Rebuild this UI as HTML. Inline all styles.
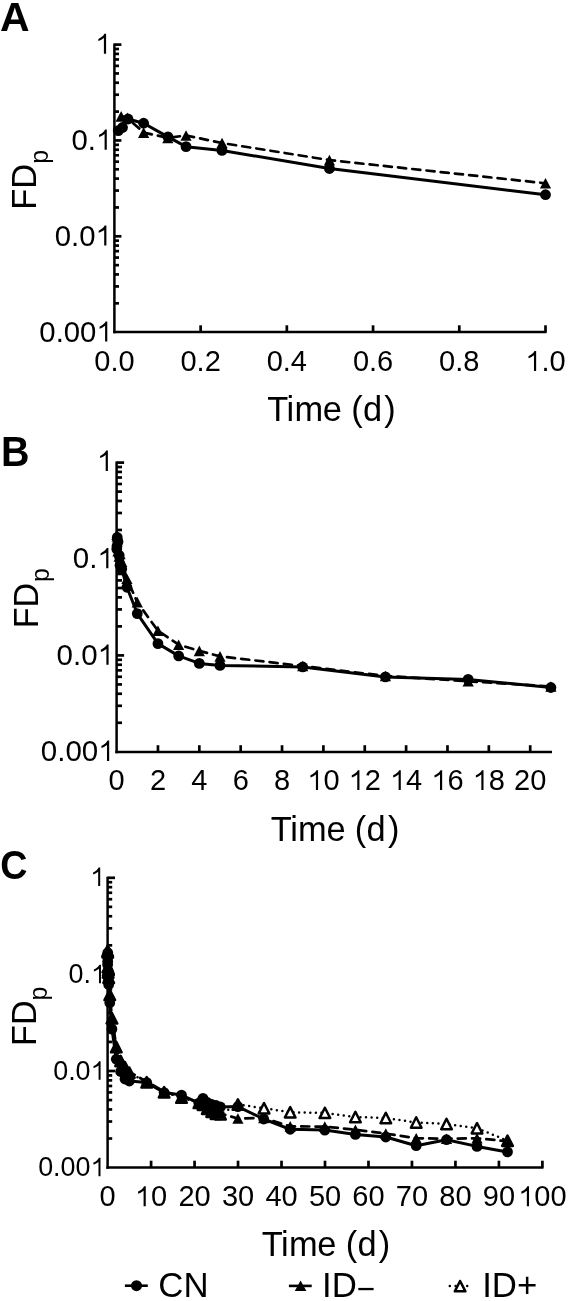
<!DOCTYPE html>
<html><head><meta charset="utf-8"><style>
html,body{margin:0;padding:0;background:#fff;width:568px;height:1301px;overflow:hidden}
svg{display:block;will-change:transform}
text{font-family:"Liberation Sans",sans-serif;fill:#000}
</style></head><body>
<svg width="568" height="1301" viewBox="0 0 568 1301">
<rect width="568" height="1301" fill="#fff"/>
<line x1="114.4" y1="43.5" x2="114.4" y2="333.35" stroke="#000" stroke-width="2.5"/>
<line x1="113.15" y1="332.1" x2="546.6" y2="332.1" stroke="#000" stroke-width="2.5"/>
<line x1="114.4" y1="44.60" x2="121.4" y2="44.60" stroke="#000" stroke-width="2.7"/>
<line x1="114.4" y1="111.60" x2="119.0" y2="111.60" stroke="#000" stroke-width="2.7"/>
<line x1="114.4" y1="94.72" x2="119.0" y2="94.72" stroke="#000" stroke-width="2.7"/>
<line x1="114.4" y1="82.74" x2="119.0" y2="82.74" stroke="#000" stroke-width="2.7"/>
<line x1="114.4" y1="73.45" x2="119.0" y2="73.45" stroke="#000" stroke-width="2.7"/>
<line x1="114.4" y1="65.86" x2="119.0" y2="65.86" stroke="#000" stroke-width="2.7"/>
<line x1="114.4" y1="59.45" x2="119.0" y2="59.45" stroke="#000" stroke-width="2.7"/>
<line x1="114.4" y1="53.89" x2="119.0" y2="53.89" stroke="#000" stroke-width="2.7"/>
<line x1="114.4" y1="48.99" x2="119.0" y2="48.99" stroke="#000" stroke-width="2.7"/>
<line x1="114.4" y1="140.45" x2="121.4" y2="140.45" stroke="#000" stroke-width="2.7"/>
<line x1="114.4" y1="207.45" x2="119.0" y2="207.45" stroke="#000" stroke-width="2.7"/>
<line x1="114.4" y1="190.57" x2="119.0" y2="190.57" stroke="#000" stroke-width="2.7"/>
<line x1="114.4" y1="178.59" x2="119.0" y2="178.59" stroke="#000" stroke-width="2.7"/>
<line x1="114.4" y1="169.30" x2="119.0" y2="169.30" stroke="#000" stroke-width="2.7"/>
<line x1="114.4" y1="161.71" x2="119.0" y2="161.71" stroke="#000" stroke-width="2.7"/>
<line x1="114.4" y1="155.30" x2="119.0" y2="155.30" stroke="#000" stroke-width="2.7"/>
<line x1="114.4" y1="149.74" x2="119.0" y2="149.74" stroke="#000" stroke-width="2.7"/>
<line x1="114.4" y1="144.84" x2="119.0" y2="144.84" stroke="#000" stroke-width="2.7"/>
<line x1="114.4" y1="236.30" x2="121.4" y2="236.30" stroke="#000" stroke-width="2.7"/>
<line x1="114.4" y1="303.30" x2="119.0" y2="303.30" stroke="#000" stroke-width="2.7"/>
<line x1="114.4" y1="286.42" x2="119.0" y2="286.42" stroke="#000" stroke-width="2.7"/>
<line x1="114.4" y1="274.44" x2="119.0" y2="274.44" stroke="#000" stroke-width="2.7"/>
<line x1="114.4" y1="265.15" x2="119.0" y2="265.15" stroke="#000" stroke-width="2.7"/>
<line x1="114.4" y1="257.56" x2="119.0" y2="257.56" stroke="#000" stroke-width="2.7"/>
<line x1="114.4" y1="251.15" x2="119.0" y2="251.15" stroke="#000" stroke-width="2.7"/>
<line x1="114.4" y1="245.59" x2="119.0" y2="245.59" stroke="#000" stroke-width="2.7"/>
<line x1="114.4" y1="240.69" x2="119.0" y2="240.69" stroke="#000" stroke-width="2.7"/>
<line x1="200.62" y1="332.1" x2="200.62" y2="325.3" stroke="#000" stroke-width="2.7"/>
<line x1="286.84" y1="332.1" x2="286.84" y2="325.3" stroke="#000" stroke-width="2.7"/>
<line x1="373.06" y1="332.1" x2="373.06" y2="325.3" stroke="#000" stroke-width="2.7"/>
<line x1="459.28" y1="332.1" x2="459.28" y2="325.3" stroke="#000" stroke-width="2.7"/>
<line x1="545.50" y1="332.1" x2="545.50" y2="325.3" stroke="#000" stroke-width="2.7"/>
<g transform="translate(106.10,53.80) scale(1.0,1.0)"><path transform="translate(-10.93,0) scale(0.01431,-0.01369)" d="M 763 0 L 610 0 L 610 1147 Q 540 1085 430 1023 Q 320 961 223 930 L 223 1090 Q 374 1165 487 1266 Q 600 1367 647 1472 L 763 1472 Z"/></g>
<g transform="translate(106.80,149.75) scale(1.0,1.0)"><text x="-35.36 -19.07" y="0" font-size="29.3">0.</text><path transform="translate(-10.93,0) scale(0.01431,-0.01369)" d="M 763 0 L 610 0 L 610 1147 Q 540 1085 430 1023 Q 320 961 223 930 L 223 1090 Q 374 1165 487 1266 Q 600 1367 647 1472 L 763 1472 Z"/></g>
<g transform="translate(106.40,245.60) scale(1.0,1.0)"><text x="-51.66 -35.36 -27.22" y="0" font-size="29.3">0.0</text><path transform="translate(-10.93,0) scale(0.01431,-0.01369)" d="M 763 0 L 610 0 L 610 1147 Q 540 1085 430 1023 Q 320 961 223 930 L 223 1090 Q 374 1165 487 1266 Q 600 1367 647 1472 L 763 1472 Z"/></g>
<g transform="translate(107.30,341.55) scale(1.0,1.0)"><text x="-67.96 -51.66 -43.52 -27.22" y="0" font-size="29.3">0.00</text><path transform="translate(-10.93,0) scale(0.01431,-0.01369)" d="M 763 0 L 610 0 L 610 1147 Q 540 1085 430 1023 Q 320 961 223 930 L 223 1090 Q 374 1165 487 1266 Q 600 1367 647 1472 L 763 1472 Z"/></g>
<g transform="translate(114.40,370.90) scale(1.0,1.0)"><text x="-20.16 -4.03 4.03" y="0" font-size="29">0.0</text></g>
<g transform="translate(200.62,370.90) scale(1.0,1.0)"><text x="-20.16 -4.03 4.03" y="0" font-size="29">0.2</text></g>
<g transform="translate(286.84,370.90) scale(1.0,1.0)"><text x="-20.16 -4.03 4.03" y="0" font-size="29">0.4</text></g>
<g transform="translate(373.06,370.90) scale(1.0,1.0)"><text x="-20.16 -4.03 4.03" y="0" font-size="29">0.6</text></g>
<g transform="translate(459.28,370.90) scale(1.0,1.0)"><text x="-20.16 -4.03 4.03" y="0" font-size="29">0.8</text></g>
<g transform="translate(545.50,370.90) scale(1.0,1.0)"><text x="-4.03 4.03" y="0" font-size="29">.0</text><path transform="translate(-20.16,0) scale(0.01416,-0.01355)" d="M 763 0 L 610 0 L 610 1147 Q 540 1085 430 1023 Q 320 961 223 930 L 223 1090 Q 374 1165 487 1266 Q 600 1367 647 1472 L 763 1472 Z"/></g>
<polyline points="121.13,116.39 127.33,117.83 143.63,132.59 167.86,137.86 186.05,135.47 222.05,143.04 329.43,160.10 545.50,183.29" fill="none" stroke="#000" stroke-width="2.7" stroke-dasharray="8.1,6.2" stroke-linecap="round" stroke-linejoin="round"/>
<polyline points="118.28,130.58 122.50,127.51 128.02,118.98 143.63,123.20 167.94,136.90 186.05,146.68 221.96,150.42 329.43,168.53 545.50,194.70" fill="none" stroke="#000" stroke-width="3.0" stroke-linejoin="round"/>
<polygon points="121.13,111.09 115.53,121.69 126.73,121.69" fill="#000"/>
<polygon points="127.33,112.53 121.73,123.13 132.93,123.13" fill="#000"/>
<polygon points="143.63,127.29 138.03,137.89 149.23,137.89" fill="#000"/>
<polygon points="167.86,132.56 162.26,143.16 173.46,143.16" fill="#000"/>
<polygon points="186.05,130.17 180.45,140.77 191.65,140.77" fill="#000"/>
<polygon points="222.05,137.74 216.45,148.34 227.65,148.34" fill="#000"/>
<polygon points="329.43,154.80 323.83,165.40 335.03,165.40" fill="#000"/>
<polygon points="545.50,177.99 539.90,188.59 551.10,188.59" fill="#000"/>
<circle cx="118.28" cy="130.58" r="5.4" fill="#000"/>
<circle cx="122.50" cy="127.51" r="5.4" fill="#000"/>
<circle cx="128.02" cy="118.98" r="5.4" fill="#000"/>
<circle cx="143.63" cy="123.20" r="5.4" fill="#000"/>
<circle cx="167.94" cy="136.90" r="5.4" fill="#000"/>
<circle cx="186.05" cy="146.68" r="5.4" fill="#000"/>
<circle cx="221.96" cy="150.42" r="5.4" fill="#000"/>
<circle cx="329.43" cy="168.53" r="5.4" fill="#000"/>
<circle cx="545.50" cy="194.70" r="5.4" fill="#000"/>
<line x1="116.6" y1="461.5" x2="116.6" y2="753.25" stroke="#000" stroke-width="2.5"/>
<line x1="115.35" y1="752.0" x2="551.98" y2="752.0" stroke="#000" stroke-width="2.5"/>
<line x1="116.6" y1="462.60" x2="124.1" y2="462.60" stroke="#000" stroke-width="2.7"/>
<line x1="116.6" y1="529.98" x2="122.0" y2="529.98" stroke="#000" stroke-width="2.7"/>
<line x1="116.6" y1="513.01" x2="122.0" y2="513.01" stroke="#000" stroke-width="2.7"/>
<line x1="116.6" y1="500.96" x2="122.0" y2="500.96" stroke="#000" stroke-width="2.7"/>
<line x1="116.6" y1="491.62" x2="122.0" y2="491.62" stroke="#000" stroke-width="2.7"/>
<line x1="116.6" y1="483.99" x2="122.0" y2="483.99" stroke="#000" stroke-width="2.7"/>
<line x1="116.6" y1="477.53" x2="122.0" y2="477.53" stroke="#000" stroke-width="2.7"/>
<line x1="116.6" y1="471.94" x2="122.0" y2="471.94" stroke="#000" stroke-width="2.7"/>
<line x1="116.6" y1="467.01" x2="122.0" y2="467.01" stroke="#000" stroke-width="2.7"/>
<line x1="116.6" y1="559.00" x2="124.1" y2="559.00" stroke="#000" stroke-width="2.7"/>
<line x1="116.6" y1="626.38" x2="122.0" y2="626.38" stroke="#000" stroke-width="2.7"/>
<line x1="116.6" y1="609.41" x2="122.0" y2="609.41" stroke="#000" stroke-width="2.7"/>
<line x1="116.6" y1="597.36" x2="122.0" y2="597.36" stroke="#000" stroke-width="2.7"/>
<line x1="116.6" y1="588.02" x2="122.0" y2="588.02" stroke="#000" stroke-width="2.7"/>
<line x1="116.6" y1="580.39" x2="122.0" y2="580.39" stroke="#000" stroke-width="2.7"/>
<line x1="116.6" y1="573.93" x2="122.0" y2="573.93" stroke="#000" stroke-width="2.7"/>
<line x1="116.6" y1="568.34" x2="122.0" y2="568.34" stroke="#000" stroke-width="2.7"/>
<line x1="116.6" y1="563.41" x2="122.0" y2="563.41" stroke="#000" stroke-width="2.7"/>
<line x1="116.6" y1="655.40" x2="124.1" y2="655.40" stroke="#000" stroke-width="2.7"/>
<line x1="116.6" y1="722.78" x2="122.0" y2="722.78" stroke="#000" stroke-width="2.7"/>
<line x1="116.6" y1="705.81" x2="122.0" y2="705.81" stroke="#000" stroke-width="2.7"/>
<line x1="116.6" y1="693.76" x2="122.0" y2="693.76" stroke="#000" stroke-width="2.7"/>
<line x1="116.6" y1="684.42" x2="122.0" y2="684.42" stroke="#000" stroke-width="2.7"/>
<line x1="116.6" y1="676.79" x2="122.0" y2="676.79" stroke="#000" stroke-width="2.7"/>
<line x1="116.6" y1="670.33" x2="122.0" y2="670.33" stroke="#000" stroke-width="2.7"/>
<line x1="116.6" y1="664.74" x2="122.0" y2="664.74" stroke="#000" stroke-width="2.7"/>
<line x1="116.6" y1="659.81" x2="122.0" y2="659.81" stroke="#000" stroke-width="2.7"/>
<line x1="157.96" y1="752.0" x2="157.96" y2="745.2" stroke="#000" stroke-width="2.7"/>
<line x1="199.32" y1="752.0" x2="199.32" y2="745.2" stroke="#000" stroke-width="2.7"/>
<line x1="240.68" y1="752.0" x2="240.68" y2="745.2" stroke="#000" stroke-width="2.7"/>
<line x1="282.04" y1="752.0" x2="282.04" y2="745.2" stroke="#000" stroke-width="2.7"/>
<line x1="323.40" y1="752.0" x2="323.40" y2="745.2" stroke="#000" stroke-width="2.7"/>
<line x1="364.76" y1="752.0" x2="364.76" y2="745.2" stroke="#000" stroke-width="2.7"/>
<line x1="406.12" y1="752.0" x2="406.12" y2="745.2" stroke="#000" stroke-width="2.7"/>
<line x1="447.48" y1="752.0" x2="447.48" y2="745.2" stroke="#000" stroke-width="2.7"/>
<line x1="488.84" y1="752.0" x2="488.84" y2="745.2" stroke="#000" stroke-width="2.7"/>
<line x1="530.20" y1="752.0" x2="530.20" y2="745.2" stroke="#000" stroke-width="2.7"/>
<g transform="translate(107.90,470.90) scale(1.0,1.0)"><path transform="translate(-11.00,0) scale(0.01440,-0.01378)" d="M 763 0 L 610 0 L 610 1147 Q 540 1085 430 1023 Q 320 961 223 930 L 223 1090 Q 374 1165 487 1266 Q 600 1367 647 1472 L 763 1472 Z"/></g>
<g transform="translate(108.40,568.20) scale(1.0,1.0)"><text x="-35.61 -19.20" y="0" font-size="29.5">0.</text><path transform="translate(-11.00,0) scale(0.01440,-0.01378)" d="M 763 0 L 610 0 L 610 1147 Q 540 1085 430 1023 Q 320 961 223 930 L 223 1090 Q 374 1165 487 1266 Q 600 1367 647 1472 L 763 1472 Z"/></g>
<g transform="translate(108.60,664.80) scale(1.0,1.0)"><text x="-52.01 -35.61 -27.41" y="0" font-size="29.5">0.0</text><path transform="translate(-11.00,0) scale(0.01440,-0.01378)" d="M 763 0 L 610 0 L 610 1147 Q 540 1085 430 1023 Q 320 961 223 930 L 223 1090 Q 374 1165 487 1266 Q 600 1367 647 1472 L 763 1472 Z"/></g>
<g transform="translate(109.20,760.90) scale(1.0,1.0)"><text x="-68.42 -52.01 -43.82 -27.41" y="0" font-size="29.5">0.00</text><path transform="translate(-11.00,0) scale(0.01440,-0.01378)" d="M 763 0 L 610 0 L 610 1147 Q 540 1085 430 1023 Q 320 961 223 930 L 223 1090 Q 374 1165 487 1266 Q 600 1367 647 1472 L 763 1472 Z"/></g>
<g transform="translate(116.60,790.10) scale(1.0,1.0)"><text x="-8.06" y="0" font-size="29">0</text></g>
<g transform="translate(157.96,790.10) scale(1.0,1.0)"><text x="-8.06" y="0" font-size="29">2</text></g>
<g transform="translate(199.32,790.10) scale(1.0,1.0)"><text x="-8.06" y="0" font-size="29">4</text></g>
<g transform="translate(240.68,790.10) scale(1.0,1.0)"><text x="-8.06" y="0" font-size="29">6</text></g>
<g transform="translate(282.04,790.10) scale(1.0,1.0)"><text x="-8.06" y="0" font-size="29">8</text></g>
<g transform="translate(323.40,790.10) scale(1.0,1.0)"><text x="0.00" y="0" font-size="29">0</text><path transform="translate(-16.13,0) scale(0.01416,-0.01355)" d="M 763 0 L 610 0 L 610 1147 Q 540 1085 430 1023 Q 320 961 223 930 L 223 1090 Q 374 1165 487 1266 Q 600 1367 647 1472 L 763 1472 Z"/></g>
<g transform="translate(364.76,790.10) scale(1.0,1.0)"><text x="0.00" y="0" font-size="29">2</text><path transform="translate(-16.13,0) scale(0.01416,-0.01355)" d="M 763 0 L 610 0 L 610 1147 Q 540 1085 430 1023 Q 320 961 223 930 L 223 1090 Q 374 1165 487 1266 Q 600 1367 647 1472 L 763 1472 Z"/></g>
<g transform="translate(406.12,790.10) scale(1.0,1.0)"><text x="0.00" y="0" font-size="29">4</text><path transform="translate(-16.13,0) scale(0.01416,-0.01355)" d="M 763 0 L 610 0 L 610 1147 Q 540 1085 430 1023 Q 320 961 223 930 L 223 1090 Q 374 1165 487 1266 Q 600 1367 647 1472 L 763 1472 Z"/></g>
<g transform="translate(447.48,790.10) scale(1.0,1.0)"><text x="0.00" y="0" font-size="29">6</text><path transform="translate(-16.13,0) scale(0.01416,-0.01355)" d="M 763 0 L 610 0 L 610 1147 Q 540 1085 430 1023 Q 320 961 223 930 L 223 1090 Q 374 1165 487 1266 Q 600 1367 647 1472 L 763 1472 Z"/></g>
<g transform="translate(488.84,790.10) scale(1.0,1.0)"><text x="0.00" y="0" font-size="29">8</text><path transform="translate(-16.13,0) scale(0.01416,-0.01355)" d="M 763 0 L 610 0 L 610 1147 Q 540 1085 430 1023 Q 320 961 223 930 L 223 1090 Q 374 1165 487 1266 Q 600 1367 647 1472 L 763 1472 Z"/></g>
<g transform="translate(530.20,790.10) scale(1.0,1.0)"><text x="-16.13 0.00" y="0" font-size="29">20</text></g>
<polyline points="116.92,534.80 117.22,536.25 118.00,551.10 119.16,556.40 120.04,553.99 121.76,561.60 126.92,578.76 137.28,602.09 157.96,630.82 178.64,644.70 199.32,650.87 220.00,656.36 302.72,666.00 385.44,675.93 468.16,681.24 550.88,686.54" fill="none" stroke="#000" stroke-width="2.7" stroke-dasharray="8.1,6.2" stroke-linecap="round" stroke-linejoin="round"/>
<polyline points="116.79,549.07 116.99,545.99 117.25,537.41 118.00,541.65 119.17,555.43 120.04,565.27 121.76,569.03 126.92,587.25 137.28,613.56 157.96,643.64 178.64,655.88 199.32,663.40 220.00,665.43 302.72,666.97 385.44,676.90 468.16,679.40 550.88,687.50" fill="none" stroke="#000" stroke-width="3.0" stroke-linejoin="round"/>
<polygon points="116.92,529.50 111.32,540.10 122.52,540.10" fill="#000"/>
<polygon points="117.22,530.95 111.62,541.55 122.82,541.55" fill="#000"/>
<polygon points="118.00,545.80 112.40,556.40 123.60,556.40" fill="#000"/>
<polygon points="119.16,551.10 113.56,561.70 124.76,561.70" fill="#000"/>
<polygon points="120.04,548.69 114.44,559.29 125.64,559.29" fill="#000"/>
<polygon points="121.76,556.30 116.16,566.90 127.36,566.90" fill="#000"/>
<polygon points="126.92,573.46 121.32,584.06 132.52,584.06" fill="#000"/>
<polygon points="137.28,596.79 131.68,607.39 142.88,607.39" fill="#000"/>
<polygon points="157.96,625.52 152.36,636.12 163.56,636.12" fill="#000"/>
<polygon points="178.64,639.40 173.04,650.00 184.24,650.00" fill="#000"/>
<polygon points="199.32,645.57 193.72,656.17 204.92,656.17" fill="#000"/>
<polygon points="220.00,651.06 214.40,661.66 225.60,661.66" fill="#000"/>
<polygon points="302.72,660.70 297.12,671.30 308.32,671.30" fill="#000"/>
<polygon points="385.44,670.63 379.84,681.23 391.04,681.23" fill="#000"/>
<polygon points="468.16,675.94 462.56,686.54 473.76,686.54" fill="#000"/>
<polygon points="550.88,681.24 545.28,691.84 556.48,691.84" fill="#000"/>
<circle cx="116.79" cy="549.07" r="5.4" fill="#000"/>
<circle cx="116.99" cy="545.99" r="5.4" fill="#000"/>
<circle cx="117.25" cy="537.41" r="5.4" fill="#000"/>
<circle cx="118.00" cy="541.65" r="5.4" fill="#000"/>
<circle cx="119.17" cy="555.43" r="5.4" fill="#000"/>
<circle cx="120.04" cy="565.27" r="5.4" fill="#000"/>
<circle cx="121.76" cy="569.03" r="5.4" fill="#000"/>
<circle cx="126.92" cy="587.25" r="5.4" fill="#000"/>
<circle cx="137.28" cy="613.56" r="5.4" fill="#000"/>
<circle cx="157.96" cy="643.64" r="5.4" fill="#000"/>
<circle cx="178.64" cy="655.88" r="5.4" fill="#000"/>
<circle cx="199.32" cy="663.40" r="5.4" fill="#000"/>
<circle cx="220.00" cy="665.43" r="5.4" fill="#000"/>
<circle cx="302.72" cy="666.97" r="5.4" fill="#000"/>
<circle cx="385.44" cy="676.90" r="5.4" fill="#000"/>
<circle cx="468.16" cy="679.40" r="5.4" fill="#000"/>
<circle cx="550.88" cy="687.50" r="5.4" fill="#000"/>
<line x1="107.6" y1="876.6999999999999" x2="107.6" y2="1168.75" stroke="#000" stroke-width="2.5"/>
<line x1="106.35" y1="1167.5" x2="543.5" y2="1167.5" stroke="#000" stroke-width="2.5"/>
<line x1="107.6" y1="877.80" x2="115.0" y2="877.80" stroke="#000" stroke-width="2.7"/>
<line x1="107.6" y1="945.32" x2="112.19999999999999" y2="945.32" stroke="#000" stroke-width="2.7"/>
<line x1="107.6" y1="928.31" x2="112.19999999999999" y2="928.31" stroke="#000" stroke-width="2.7"/>
<line x1="107.6" y1="916.24" x2="112.19999999999999" y2="916.24" stroke="#000" stroke-width="2.7"/>
<line x1="107.6" y1="906.88" x2="112.19999999999999" y2="906.88" stroke="#000" stroke-width="2.7"/>
<line x1="107.6" y1="899.23" x2="112.19999999999999" y2="899.23" stroke="#000" stroke-width="2.7"/>
<line x1="107.6" y1="892.76" x2="112.19999999999999" y2="892.76" stroke="#000" stroke-width="2.7"/>
<line x1="107.6" y1="887.16" x2="112.19999999999999" y2="887.16" stroke="#000" stroke-width="2.7"/>
<line x1="107.6" y1="882.22" x2="112.19999999999999" y2="882.22" stroke="#000" stroke-width="2.7"/>
<line x1="107.6" y1="974.40" x2="115.0" y2="974.40" stroke="#000" stroke-width="2.7"/>
<line x1="107.6" y1="1041.92" x2="112.19999999999999" y2="1041.92" stroke="#000" stroke-width="2.7"/>
<line x1="107.6" y1="1024.91" x2="112.19999999999999" y2="1024.91" stroke="#000" stroke-width="2.7"/>
<line x1="107.6" y1="1012.84" x2="112.19999999999999" y2="1012.84" stroke="#000" stroke-width="2.7"/>
<line x1="107.6" y1="1003.48" x2="112.19999999999999" y2="1003.48" stroke="#000" stroke-width="2.7"/>
<line x1="107.6" y1="995.83" x2="112.19999999999999" y2="995.83" stroke="#000" stroke-width="2.7"/>
<line x1="107.6" y1="989.36" x2="112.19999999999999" y2="989.36" stroke="#000" stroke-width="2.7"/>
<line x1="107.6" y1="983.76" x2="112.19999999999999" y2="983.76" stroke="#000" stroke-width="2.7"/>
<line x1="107.6" y1="978.82" x2="112.19999999999999" y2="978.82" stroke="#000" stroke-width="2.7"/>
<line x1="107.6" y1="1071.00" x2="115.0" y2="1071.00" stroke="#000" stroke-width="2.7"/>
<line x1="107.6" y1="1138.52" x2="112.19999999999999" y2="1138.52" stroke="#000" stroke-width="2.7"/>
<line x1="107.6" y1="1121.51" x2="112.19999999999999" y2="1121.51" stroke="#000" stroke-width="2.7"/>
<line x1="107.6" y1="1109.44" x2="112.19999999999999" y2="1109.44" stroke="#000" stroke-width="2.7"/>
<line x1="107.6" y1="1100.08" x2="112.19999999999999" y2="1100.08" stroke="#000" stroke-width="2.7"/>
<line x1="107.6" y1="1092.43" x2="112.19999999999999" y2="1092.43" stroke="#000" stroke-width="2.7"/>
<line x1="107.6" y1="1085.96" x2="112.19999999999999" y2="1085.96" stroke="#000" stroke-width="2.7"/>
<line x1="107.6" y1="1080.36" x2="112.19999999999999" y2="1080.36" stroke="#000" stroke-width="2.7"/>
<line x1="107.6" y1="1075.42" x2="112.19999999999999" y2="1075.42" stroke="#000" stroke-width="2.7"/>
<line x1="151.08" y1="1167.5" x2="151.08" y2="1160.7" stroke="#000" stroke-width="2.7"/>
<line x1="194.56" y1="1167.5" x2="194.56" y2="1160.7" stroke="#000" stroke-width="2.7"/>
<line x1="238.04" y1="1167.5" x2="238.04" y2="1160.7" stroke="#000" stroke-width="2.7"/>
<line x1="281.52" y1="1167.5" x2="281.52" y2="1160.7" stroke="#000" stroke-width="2.7"/>
<line x1="325.00" y1="1167.5" x2="325.00" y2="1160.7" stroke="#000" stroke-width="2.7"/>
<line x1="368.48" y1="1167.5" x2="368.48" y2="1160.7" stroke="#000" stroke-width="2.7"/>
<line x1="411.96" y1="1167.5" x2="411.96" y2="1160.7" stroke="#000" stroke-width="2.7"/>
<line x1="455.44" y1="1167.5" x2="455.44" y2="1160.7" stroke="#000" stroke-width="2.7"/>
<line x1="498.92" y1="1167.5" x2="498.92" y2="1160.7" stroke="#000" stroke-width="2.7"/>
<line x1="542.40" y1="1167.5" x2="542.40" y2="1160.7" stroke="#000" stroke-width="2.7"/>
<g transform="translate(100.20,886.10) scale(1.0,1.0)"><path transform="translate(-10.03,0) scale(0.01313,-0.01257)" d="M 763 0 L 610 0 L 610 1147 Q 540 1085 430 1023 Q 320 961 223 930 L 223 1090 Q 374 1165 487 1266 Q 600 1367 647 1472 L 763 1472 Z"/></g>
<g transform="translate(101.00,983.20) scale(1.0,1.0)"><text x="-32.47 -17.51" y="0" font-size="26.9">0.</text><path transform="translate(-10.03,0) scale(0.01313,-0.01257)" d="M 763 0 L 610 0 L 610 1147 Q 540 1085 430 1023 Q 320 961 223 930 L 223 1090 Q 374 1165 487 1266 Q 600 1367 647 1472 L 763 1472 Z"/></g>
<g transform="translate(100.60,1079.80) scale(1.0,1.0)"><text x="-47.43 -32.47 -24.99" y="0" font-size="26.9">0.0</text><path transform="translate(-10.03,0) scale(0.01313,-0.01257)" d="M 763 0 L 610 0 L 610 1147 Q 540 1085 430 1023 Q 320 961 223 930 L 223 1090 Q 374 1165 487 1266 Q 600 1367 647 1472 L 763 1472 Z"/></g>
<g transform="translate(100.50,1176.30) scale(1.0,1.0)"><text x="-62.39 -47.43 -39.95 -24.99" y="0" font-size="26.9">0.00</text><path transform="translate(-10.03,0) scale(0.01313,-0.01257)" d="M 763 0 L 610 0 L 610 1147 Q 540 1085 430 1023 Q 320 961 223 930 L 223 1090 Q 374 1165 487 1266 Q 600 1367 647 1472 L 763 1472 Z"/></g>
<g transform="translate(107.60,1206.30) scale(1.0,1.0)"><text x="-8.06" y="0" font-size="29">0</text></g>
<g transform="translate(151.08,1206.30) scale(1.0,1.0)"><text x="0.00" y="0" font-size="29">0</text><path transform="translate(-16.13,0) scale(0.01416,-0.01355)" d="M 763 0 L 610 0 L 610 1147 Q 540 1085 430 1023 Q 320 961 223 930 L 223 1090 Q 374 1165 487 1266 Q 600 1367 647 1472 L 763 1472 Z"/></g>
<g transform="translate(194.56,1206.30) scale(1.0,1.0)"><text x="-16.13 0.00" y="0" font-size="29">20</text></g>
<g transform="translate(238.04,1206.30) scale(1.0,1.0)"><text x="-16.13 0.00" y="0" font-size="29">30</text></g>
<g transform="translate(281.52,1206.30) scale(1.0,1.0)"><text x="-16.13 0.00" y="0" font-size="29">40</text></g>
<g transform="translate(325.00,1206.30) scale(1.0,1.0)"><text x="-16.13 0.00" y="0" font-size="29">50</text></g>
<g transform="translate(368.48,1206.30) scale(1.0,1.0)"><text x="-16.13 0.00" y="0" font-size="29">60</text></g>
<g transform="translate(411.96,1206.30) scale(1.0,1.0)"><text x="-16.13 0.00" y="0" font-size="29">70</text></g>
<g transform="translate(455.44,1206.30) scale(1.0,1.0)"><text x="-16.13 0.00" y="0" font-size="29">80</text></g>
<g transform="translate(498.92,1206.30) scale(1.0,1.0)"><text x="-16.13 0.00" y="0" font-size="29">90</text></g>
<g transform="translate(542.40,1206.30) scale(1.0,1.0)"><text x="-8.06 8.06" y="0" font-size="29">00</text><path transform="translate(-24.19,0) scale(0.01416,-0.01355)" d="M 763 0 L 610 0 L 610 1147 Q 540 1085 430 1023 Q 320 961 223 930 L 223 1090 Q 374 1165 487 1266 Q 600 1367 647 1472 L 763 1472 Z"/></g>
<polyline points="107.67,950.85 107.73,952.30 107.89,967.18 108.14,972.49 108.32,970.08 108.69,977.71 109.77,994.90 111.95,1018.28 116.30,1047.07 120.64,1060.98 124.99,1067.16 129.34,1072.67 146.73,1082.33 164.12,1092.28 181.52,1097.59 198.91,1102.90 203.00,1104.70 207.30,1108.70 211.70,1111.70 216.00,1113.70 220.40,1114.20 237.90,1104.50 264.00,1108.20 290.20,1112.30 324.90,1112.90 355.40,1117.00 385.80,1118.00 416.20,1122.50 446.50,1124.00 477.00,1128.20 507.50,1140.70" fill="none" stroke="#000" stroke-width="2.5" stroke-dasharray="0,5.6" stroke-linecap="round" stroke-linejoin="round"/>
<polyline points="107.67,950.15 107.73,951.60 107.89,966.48 108.14,971.79 108.32,969.38 108.69,977.01 109.77,994.20 111.95,1017.58 116.30,1046.37 120.64,1060.28 124.99,1066.46 129.34,1071.97 146.73,1081.63 164.12,1091.58 181.52,1096.89 198.91,1102.20 203.00,1104.00 207.30,1108.00 211.70,1111.00 216.00,1113.00 220.40,1113.50 237.90,1118.50 263.70,1118.00 290.20,1126.40 324.80,1126.60 355.40,1129.80 385.80,1133.60 416.20,1138.20 446.50,1138.70 477.00,1138.30 507.50,1141.20" fill="none" stroke="#000" stroke-width="2.7" stroke-dasharray="8.1,6.2" stroke-linecap="round" stroke-linejoin="round"/>
<polyline points="107.64,964.45 107.68,961.36 107.74,952.76 107.89,957.01 108.14,970.83 108.32,980.68 108.68,984.45 109.77,1002.70 111.95,1029.08 116.30,1059.21 120.64,1071.48 124.99,1079.02 129.34,1081.05 146.73,1082.59 164.12,1092.54 181.52,1095.05 198.91,1103.17 203.00,1098.30 207.30,1102.50 211.70,1104.50 216.00,1105.50 220.40,1107.00 237.90,1106.60 263.70,1119.00 290.20,1129.30 324.80,1130.10 355.40,1134.40 385.80,1137.00 416.20,1145.70 446.50,1139.70 477.00,1146.40 507.50,1151.90" fill="none" stroke="#000" stroke-width="3.0" stroke-linejoin="round"/>
<polygon points="107.67,945.65 102.37,956.05 112.97,956.05" fill="#fff" stroke="#000" stroke-width="2.5" stroke-linejoin="round"/>
<polygon points="107.73,947.10 102.43,957.50 113.03,957.50" fill="#fff" stroke="#000" stroke-width="2.5" stroke-linejoin="round"/>
<polygon points="107.89,961.98 102.59,972.38 113.19,972.38" fill="#fff" stroke="#000" stroke-width="2.5" stroke-linejoin="round"/>
<polygon points="108.14,967.29 102.84,977.69 113.44,977.69" fill="#fff" stroke="#000" stroke-width="2.5" stroke-linejoin="round"/>
<polygon points="108.32,964.88 103.02,975.28 113.62,975.28" fill="#fff" stroke="#000" stroke-width="2.5" stroke-linejoin="round"/>
<polygon points="108.69,972.51 103.39,982.91 113.99,982.91" fill="#fff" stroke="#000" stroke-width="2.5" stroke-linejoin="round"/>
<polygon points="109.77,989.70 104.47,1000.10 115.07,1000.10" fill="#fff" stroke="#000" stroke-width="2.5" stroke-linejoin="round"/>
<polygon points="111.95,1013.08 106.65,1023.48 117.25,1023.48" fill="#fff" stroke="#000" stroke-width="2.5" stroke-linejoin="round"/>
<polygon points="116.30,1041.87 111.00,1052.27 121.60,1052.27" fill="#fff" stroke="#000" stroke-width="2.5" stroke-linejoin="round"/>
<polygon points="120.64,1055.78 115.34,1066.18 125.94,1066.18" fill="#fff" stroke="#000" stroke-width="2.5" stroke-linejoin="round"/>
<polygon points="124.99,1061.96 119.69,1072.36 130.29,1072.36" fill="#fff" stroke="#000" stroke-width="2.5" stroke-linejoin="round"/>
<polygon points="129.34,1067.47 124.04,1077.87 134.64,1077.87" fill="#fff" stroke="#000" stroke-width="2.5" stroke-linejoin="round"/>
<polygon points="146.73,1077.13 141.43,1087.53 152.03,1087.53" fill="#fff" stroke="#000" stroke-width="2.5" stroke-linejoin="round"/>
<polygon points="164.12,1087.08 158.82,1097.48 169.42,1097.48" fill="#fff" stroke="#000" stroke-width="2.5" stroke-linejoin="round"/>
<polygon points="181.52,1092.39 176.22,1102.79 186.82,1102.79" fill="#fff" stroke="#000" stroke-width="2.5" stroke-linejoin="round"/>
<polygon points="198.91,1097.70 193.61,1108.10 204.21,1108.10" fill="#fff" stroke="#000" stroke-width="2.5" stroke-linejoin="round"/>
<polygon points="203.00,1099.50 197.70,1109.90 208.30,1109.90" fill="#fff" stroke="#000" stroke-width="2.5" stroke-linejoin="round"/>
<polygon points="207.30,1103.50 202.00,1113.90 212.60,1113.90" fill="#fff" stroke="#000" stroke-width="2.5" stroke-linejoin="round"/>
<polygon points="211.70,1106.50 206.40,1116.90 217.00,1116.90" fill="#fff" stroke="#000" stroke-width="2.5" stroke-linejoin="round"/>
<polygon points="216.00,1108.50 210.70,1118.90 221.30,1118.90" fill="#fff" stroke="#000" stroke-width="2.5" stroke-linejoin="round"/>
<polygon points="220.40,1109.00 215.10,1119.40 225.70,1119.40" fill="#fff" stroke="#000" stroke-width="2.5" stroke-linejoin="round"/>
<polygon points="237.90,1099.30 232.60,1109.70 243.20,1109.70" fill="#fff" stroke="#000" stroke-width="2.5" stroke-linejoin="round"/>
<polygon points="264.00,1103.00 258.70,1113.40 269.30,1113.40" fill="#fff" stroke="#000" stroke-width="2.5" stroke-linejoin="round"/>
<polygon points="290.20,1107.10 284.90,1117.50 295.50,1117.50" fill="#fff" stroke="#000" stroke-width="2.5" stroke-linejoin="round"/>
<polygon points="324.90,1107.70 319.60,1118.10 330.20,1118.10" fill="#fff" stroke="#000" stroke-width="2.5" stroke-linejoin="round"/>
<polygon points="355.40,1111.80 350.10,1122.20 360.70,1122.20" fill="#fff" stroke="#000" stroke-width="2.5" stroke-linejoin="round"/>
<polygon points="385.80,1112.80 380.50,1123.20 391.10,1123.20" fill="#fff" stroke="#000" stroke-width="2.5" stroke-linejoin="round"/>
<polygon points="416.20,1117.30 410.90,1127.70 421.50,1127.70" fill="#fff" stroke="#000" stroke-width="2.5" stroke-linejoin="round"/>
<polygon points="446.50,1118.80 441.20,1129.20 451.80,1129.20" fill="#fff" stroke="#000" stroke-width="2.5" stroke-linejoin="round"/>
<polygon points="477.00,1123.00 471.70,1133.40 482.30,1133.40" fill="#fff" stroke="#000" stroke-width="2.5" stroke-linejoin="round"/>
<polygon points="507.50,1135.50 502.20,1145.90 512.80,1145.90" fill="#fff" stroke="#000" stroke-width="2.5" stroke-linejoin="round"/>
<polygon points="107.67,944.85 102.07,955.45 113.27,955.45" fill="#000"/>
<polygon points="107.73,946.30 102.13,956.90 113.33,956.90" fill="#000"/>
<polygon points="107.89,961.18 102.29,971.78 113.49,971.78" fill="#000"/>
<polygon points="108.14,966.49 102.54,977.09 113.74,977.09" fill="#000"/>
<polygon points="108.32,964.08 102.72,974.68 113.92,974.68" fill="#000"/>
<polygon points="108.69,971.71 103.09,982.31 114.29,982.31" fill="#000"/>
<polygon points="109.77,988.90 104.17,999.50 115.37,999.50" fill="#000"/>
<polygon points="111.95,1012.28 106.35,1022.88 117.55,1022.88" fill="#000"/>
<polygon points="116.30,1041.07 110.70,1051.67 121.90,1051.67" fill="#000"/>
<polygon points="120.64,1054.98 115.04,1065.58 126.24,1065.58" fill="#000"/>
<polygon points="124.99,1061.16 119.39,1071.76 130.59,1071.76" fill="#000"/>
<polygon points="129.34,1066.67 123.74,1077.27 134.94,1077.27" fill="#000"/>
<polygon points="146.73,1076.33 141.13,1086.93 152.33,1086.93" fill="#000"/>
<polygon points="164.12,1086.28 158.52,1096.88 169.72,1096.88" fill="#000"/>
<polygon points="181.52,1091.59 175.92,1102.19 187.12,1102.19" fill="#000"/>
<polygon points="198.91,1096.90 193.31,1107.50 204.51,1107.50" fill="#000"/>
<polygon points="203.00,1098.70 197.40,1109.30 208.60,1109.30" fill="#000"/>
<polygon points="207.30,1102.70 201.70,1113.30 212.90,1113.30" fill="#000"/>
<polygon points="211.70,1105.70 206.10,1116.30 217.30,1116.30" fill="#000"/>
<polygon points="216.00,1107.70 210.40,1118.30 221.60,1118.30" fill="#000"/>
<polygon points="220.40,1108.20 214.80,1118.80 226.00,1118.80" fill="#000"/>
<polygon points="237.90,1113.20 232.30,1123.80 243.50,1123.80" fill="#000"/>
<polygon points="263.70,1112.70 258.10,1123.30 269.30,1123.30" fill="#000"/>
<polygon points="290.20,1121.10 284.60,1131.70 295.80,1131.70" fill="#000"/>
<polygon points="324.80,1121.30 319.20,1131.90 330.40,1131.90" fill="#000"/>
<polygon points="355.40,1124.50 349.80,1135.10 361.00,1135.10" fill="#000"/>
<polygon points="385.80,1128.30 380.20,1138.90 391.40,1138.90" fill="#000"/>
<polygon points="416.20,1132.90 410.60,1143.50 421.80,1143.50" fill="#000"/>
<polygon points="446.50,1133.40 440.90,1144.00 452.10,1144.00" fill="#000"/>
<polygon points="477.00,1133.00 471.40,1143.60 482.60,1143.60" fill="#000"/>
<polygon points="507.50,1135.90 501.90,1146.50 513.10,1146.50" fill="#000"/>
<circle cx="107.64" cy="964.45" r="5.4" fill="#000"/>
<circle cx="107.68" cy="961.36" r="5.4" fill="#000"/>
<circle cx="107.74" cy="952.76" r="5.4" fill="#000"/>
<circle cx="107.89" cy="957.01" r="5.4" fill="#000"/>
<circle cx="108.14" cy="970.83" r="5.4" fill="#000"/>
<circle cx="108.32" cy="980.68" r="5.4" fill="#000"/>
<circle cx="108.68" cy="984.45" r="5.4" fill="#000"/>
<circle cx="109.77" cy="1002.70" r="5.4" fill="#000"/>
<circle cx="111.95" cy="1029.08" r="5.4" fill="#000"/>
<circle cx="116.30" cy="1059.21" r="5.4" fill="#000"/>
<circle cx="120.64" cy="1071.48" r="5.4" fill="#000"/>
<circle cx="124.99" cy="1079.02" r="5.4" fill="#000"/>
<circle cx="129.34" cy="1081.05" r="5.4" fill="#000"/>
<circle cx="146.73" cy="1082.59" r="5.4" fill="#000"/>
<circle cx="164.12" cy="1092.54" r="5.4" fill="#000"/>
<circle cx="181.52" cy="1095.05" r="5.4" fill="#000"/>
<circle cx="198.91" cy="1103.17" r="5.4" fill="#000"/>
<circle cx="203.00" cy="1098.30" r="5.4" fill="#000"/>
<circle cx="207.30" cy="1102.50" r="5.4" fill="#000"/>
<circle cx="211.70" cy="1104.50" r="5.4" fill="#000"/>
<circle cx="216.00" cy="1105.50" r="5.4" fill="#000"/>
<circle cx="220.40" cy="1107.00" r="5.4" fill="#000"/>
<circle cx="237.90" cy="1106.60" r="5.4" fill="#000"/>
<circle cx="263.70" cy="1119.00" r="5.4" fill="#000"/>
<circle cx="290.20" cy="1129.30" r="5.4" fill="#000"/>
<circle cx="324.80" cy="1130.10" r="5.4" fill="#000"/>
<circle cx="355.40" cy="1134.40" r="5.4" fill="#000"/>
<circle cx="385.80" cy="1137.00" r="5.4" fill="#000"/>
<circle cx="416.20" cy="1145.70" r="5.4" fill="#000"/>
<circle cx="446.50" cy="1139.70" r="5.4" fill="#000"/>
<circle cx="477.00" cy="1146.40" r="5.4" fill="#000"/>
<circle cx="507.50" cy="1151.90" r="5.4" fill="#000"/>
<g transform="translate(1.00,31.20) scale(1.0,1.0)"><text x="-1.02" y="0" font-size="41" font-weight="bold">A</text></g>
<g transform="translate(3.70,465.50) scale(0.94,1.0)"><text x="-2.81" y="0" font-size="42" font-weight="bold">B</text></g>
<g transform="translate(1.90,879.20) scale(0.92,1.0)"><text x="-1.68" y="0" font-size="41" font-weight="bold">C</text></g>
<g transform="translate(36.4,207.0) rotate(-90)"><g transform="translate(0.00,0.00) scale(1.0,1.033)"><text x="-2.84 18.30" y="0" font-size="34.6">FD</text></g><g transform="translate(44.80,11.10) scale(1.0,1.0)"><text x="-1.61" y="0" font-size="25">p</text></g></g>
<g transform="translate(38.0,625.5) rotate(-90)"><g transform="translate(0.00,0.00) scale(1.0,1.027)"><text x="-2.80 18.03" y="0" font-size="34.1">FD</text></g><g transform="translate(45.20,10.90) scale(1.0,1.0)"><text x="-1.61" y="0" font-size="25">p</text></g></g>
<g transform="translate(35.9,1043.2) rotate(-90)"><g transform="translate(0.00,0.00) scale(1.0,1.04)"><text x="-2.81 18.09" y="0" font-size="34.2">FD</text></g><g transform="translate(44.40,10.85) scale(1.0,1.0)"><text x="-1.61" y="0" font-size="25">p</text></g></g>
<g transform="translate(267.90,420.80) scale(1.0,1.035)"><text x="-0.77 18.70 26.57 54.89 83.27 95.06 116.40" y="0" font-size="34.4">Time(d)</text></g>
<g transform="translate(271.50,841.00) scale(1.0,1.035)"><text x="-0.77 18.70 26.57 54.89 83.27 95.06 116.40" y="0" font-size="34.4">Time(d)</text></g>
<g transform="translate(262.40,1256.30) scale(1.0,1.035)"><text x="-0.77 18.70 26.57 54.89 83.27 95.06 116.40" y="0" font-size="34.4">Time(d)</text></g>
<line x1="124.9" y1="1285.7" x2="147.8" y2="1285.7" stroke="#000" stroke-width="2.6"/>
<circle cx="136.50" cy="1285.70" r="5.5" fill="#000"/>
<g transform="translate(160.10,1297.30) scale(1.0,1.02)"><text x="-1.77 23.36" y="0" font-size="34.8">CN</text></g>
<line x1="288.9" y1="1285.9" x2="311.7" y2="1285.9" stroke="#000" stroke-width="2.6"/>
<polygon points="300.60,1280.40 294.80,1291.00 306.40,1291.00" fill="#000"/>
<g transform="translate(325.30,1297.20) scale(1.0,1.02)"><text x="-3.21 6.46" y="0" font-size="34.8">ID</text></g>
<rect x="358.3" y="1287.9" width="15.3" height="2.3" fill="#000"/>
<line x1="449.8" y1="1285.9" x2="467.2" y2="1285.9" stroke="#000" stroke-width="2.5" stroke-dasharray="0,5.8" stroke-linecap="round"/>
<polygon points="460.10,1280.95 454.80,1291.35 465.40,1291.35" fill="#fff" stroke="#000" stroke-width="2.5" stroke-linejoin="round"/>
<g transform="translate(485.40,1297.20) scale(1.0,1.02)"><text x="-3.21 6.46 31.59" y="0" font-size="34.8">ID+</text></g>
</svg>
</body></html>
